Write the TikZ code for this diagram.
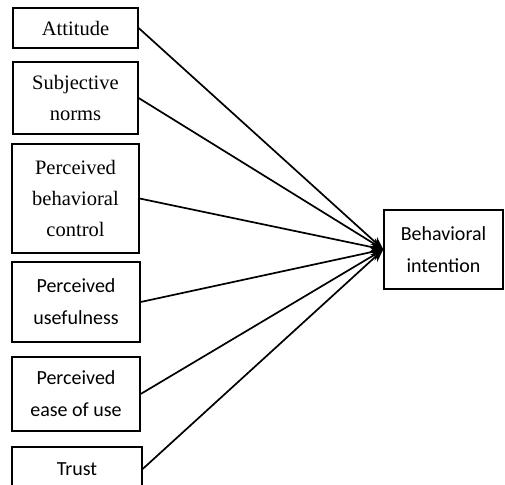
\documentclass[tikz,border=0pt]{standalone}
\usepackage{fontspec}
\setmainfont{Liberation Serif}
\newfontfamily\carl{Carlito}
\usetikzlibrary{arrows.meta}
\begin{document}
\begin{tikzpicture}[x=1pt,y=-1pt,
  box/.style={draw,line width=1.3pt,rectangle,inner sep=0pt,align=center,
    font=\fontsize{20.5}{31}\selectfont},
  sbox/.style={box,font=\carl\fontsize{20}{32}\selectfont},
  conn/.style={line width=1.7pt,-{Stealth[length=13pt,width=10pt]}}]
\clip (0,0) rectangle (505,484);
\fill[white] (0,0) rectangle (505,484);
\node[box,minimum width=125pt,minimum height=40pt] (att) at (75.5,28) {Attitude};
\node[box,minimum width=125pt,minimum height=72pt] (sn) at (75.5,98) {Subjective\\norms};
\node[box,minimum width=127pt,minimum height=109pt] (pbc) at (75.5,198.5) {Perceived\\behavioral\\control};
\node[sbox,minimum width=128pt,minimum height=80pt] (pu) at (76,302) {Perceived\\usefulness};
\node[sbox,minimum width=128pt,minimum height=74pt] (peu) at (76,394) {Perceived\\ease of use};
\node[sbox,minimum width=130pt,minimum height=44pt] (tr) at (77,469) {Trust};
\node[sbox,minimum width=119pt,minimum height=79pt] (bi) at (443.5,249.5) {Behavioral\\intention};
\foreach \n in {att,sn,pbc,pu,peu,tr}{
  \draw[conn] (\n.east) -- (bi.west);
}
\end{tikzpicture}
\end{document}
